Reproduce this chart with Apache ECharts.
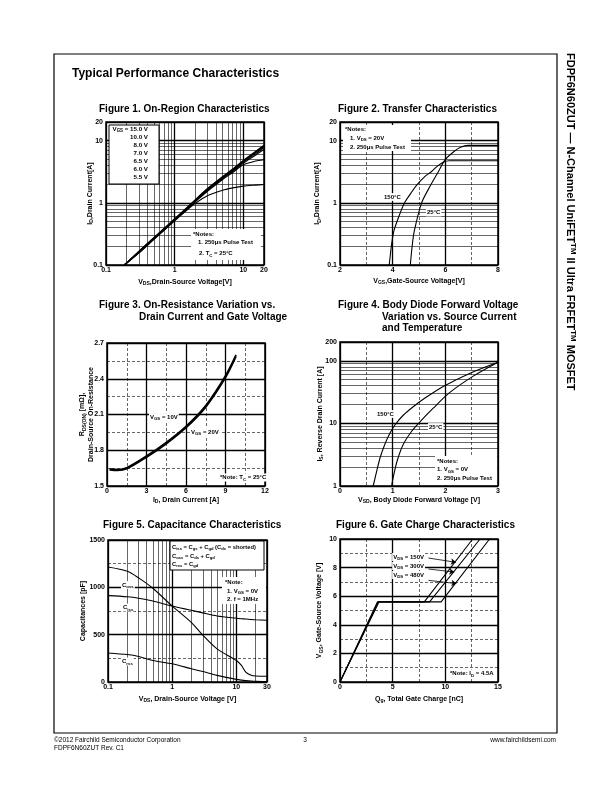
<!DOCTYPE html>
<html><head><meta charset="utf-8">
<script src="https://cdn.jsdelivr.net/npm/echarts@6/dist/echarts.min.js"></script>
<style>html,body{margin:0;padding:0;background:#fff}#c{width:612px;height:792px}</style>
</head><body><div id="c"></div>
<script>
// ---------------- Figure 1: On-Region Characteristics ----------------
const fig1Vds  = [0.185, 0.3, 0.5, 0.7, 1, 1.5, 2, 3, 5, 7, 10, 15, 20];
const fig1Id150 = [0.1, 0.166, 0.277, 0.388, 0.555, 0.84, 1.13, 1.7, 2.65, 3.5, 4.8, 6.7, 8.5];
const fig1Id100 = [0.1, 0.164, 0.273, 0.382, 0.548, 0.825, 1.11, 1.67, 2.61, 3.43, 4.72, 6.5, 8.3];
const fig1Id80  = [0.1, 0.162, 0.27, 0.378, 0.54, 0.81, 1.09, 1.64, 2.57, 3.38, 4.65, 6.4, 8.1];
const fig1Id70  = [0.1, 0.16, 0.267, 0.373, 0.533, 0.8, 1.075, 1.61, 2.52, 3.3, 4.52, 6.15, 7.85];
const fig1Id65  = [0.1, 0.158, 0.264, 0.368, 0.527, 0.79, 1.06, 1.58, 2.46, 3.2, 4.35, 5.85, 7.3];
const fig1Id60  = [0.1, 0.157, 0.262, 0.365, 0.523, 0.78, 1.04, 1.54, 2.38, 3.08, 4.1, 4.7, 4.95];
const fig1Id55  = [0.1, 0.155, 0.258, 0.36, 0.515, 0.76, 0.98, 1.3, 1.6, 1.74, 1.86, 1.93, 1.97];
const fig1Legend = ['V{s|GS} = 15.0 V', '10.0 V', '8.0 V', '7.0 V', '6.5 V', '6.0 V', '5.5 V'];
const logMinor01to20 = [0.2,0.3,0.4,0.5,0.6,0.7,0.8,0.9,2,3,4,5,6,7,8,9];

// ---------------- Figure 2: Transfer Characteristics ----------------
const fig2Vgs150 = [3.87, 3.95, 4.04, 4.2, 4.45, 4.7, 4.92, 5.2, 5.48, 5.7, 5.92, 6.15, 8];
const fig2Id150  = [0.1, 0.2, 0.345, 0.55, 1.0, 1.45, 1.95, 2.6, 3.2, 3.9, 4.5, 4.75, 4.75];
const fig2Vgs25  = [4.67, 4.74, 4.82, 5.1, 5.45, 5.74, 5.99, 6.33, 6.6, 6.85, 8];
const fig2Id25   = [0.1, 0.2, 0.35, 1.0, 1.95, 3.2, 4.9, 6.7, 7.9, 8.4, 8.4];

// ---------------- Figure 3: On-Resistance ----------------
const fig3Id    = [0.2, 0.8, 1.5, 3, 4.5, 6, 7.5, 9, 9.8];
const fig3Rds10 = [1.643, 1.638, 1.653, 1.751, 1.866, 2.001, 2.176, 2.426, 2.601];
const fig3Rds20 = [1.635, 1.63, 1.644, 1.741, 1.854, 1.989, 2.162, 2.409, 2.587];

// ---------------- Figure 4: Body Diode ----------------
const fig4Vsd150 = [0.63, 0.68, 0.76, 0.85, 0.95, 1.05, 1.2, 1.39, 1.6, 1.96, 2.46, 3.0];
const fig4Is150  = [1, 1.5, 2.8, 4.6, 7, 9.6, 13.5, 18.5, 25, 39, 63, 95];
const fig4Vsd25  = [0.98, 1.02, 1.09, 1.2, 1.35, 1.5, 1.77, 2.08, 2.53, 3.0];
const fig4Is25   = [1, 1.5, 2.6, 4.6, 7.3, 10.2, 17.5, 31, 57, 95];
const fig4MinorY = [2,3,4,5,6,7,8,9,20,30,40,50,60,70,80,90];

// ---------------- Figure 5: Capacitance ----------------
const fig5Vds  = [0.1, 0.2, 0.3, 0.5, 1, 2, 3, 5, 10, 12, 14, 17, 20, 30];
const fig5Coss = [1215, 1170, 1100, 990, 802, 628, 495, 350, 227, 175, 105, 72, 64, 60];
const fig5Ciss = [912, 900, 885, 855, 802, 757, 730, 698, 673, 668, 665, 660, 657, 652];
const fig5Crss = [307, 290, 270, 227, 192, 140, 110, 70, 28, 20, 15, 10, 7, 5];
const fig5MinorX = [0.2,0.3,0.4,0.5,0.6,0.7,0.8,0.9,2,3,4,5,6,7,8,9,20];

// ---------------- Figure 6: Gate Charge ----------------
const fig6Vgs  = [0, 5.6, 5.6, 10];
const fig6Q150 = [0, 3.55, 8.0, 12.6];
const fig6Q300 = [0, 3.62, 8.5, 13.3];
const fig6Q480 = [0, 3.7, 9.6, 14.2];

// ---------------------------------------------------------------
const FONT = '"Liberation Sans", Arial, Helvetica, sans-serif';
function richFor(size) {
  return {
    s: {fontSize: size * 0.72, fontWeight: 'bold', fontFamily: FONT, color: '#000', lineHeight: size * 0.5, verticalAlign: 'bottom'},
    p: {fontSize: size * 0.72, fontWeight: 'bold', fontFamily: FONT, color: '#000', lineHeight: size * 0.5, verticalAlign: 'top'}
  };
}
const zip = (xs, ys) => xs.map((x, i) => [x, ys[i]]);
const fmtLog = v => String(+(+v).toPrecision(4));
const fmtPlain = v => String(+(+v).toPrecision(6));

const MAJOR = {show: true, lineStyle: {color: '#000', width: 1.3}};
const MINOR_DASH = {show: true, lineStyle: {color: '#000', width: 0.6, type: [3, 2]}};

function axisBase(gi, name, nameGap, isY, extra) {
  return Object.assign({
    gridIndex: gi, name: name, nameLocation: 'middle', nameGap: nameGap,
    nameRotate: isY ? 90 : 0, nameMoveOverlap: false,
    nameTextStyle: {fontFamily: FONT, fontSize: 7, fontWeight: 'bold', color: '#000', lineHeight: 9, rich: richFor(7)},
    axisLine: {show: false}, axisTick: {show: false},
    axisLabel: {fontFamily: FONT, fontSize: 7, fontWeight: 'bold', color: '#000', margin: isY ? 3 : 2},
    splitLine: MAJOR
  }, extra);
}
function logAx(gi, min, max, name, gap, isY) {
  const a = axisBase(gi, name, gap, isY, {type: 'log', logBase: 10, min: min, max: max});
  a.axisLabel.formatter = fmtLog;
  return a;
}
function valAx(gi, min, max, interval, name, gap, isY, fmt) {
  const a = axisBase(gi, name, gap, isY, {
    type: 'value', min: min, max: max, interval: interval,
    minorTick: {show: false, splitNumber: 2},
    minorSplitLine: MINOR_DASH
  });
  a.axisLabel.formatter = fmt || fmtPlain;
  return a;
}
function minorLines(xs, ys) {
  return {
    silent: true, symbol: ['none', 'none'], label: {show: false},
    lineStyle: {color: '#000', width: 0.6, type: 'solid'},
    emphasis: {disabled: true}, animation: false,
    data: xs.map(v => ({xAxis: v})).concat(ys.map(v => ({yAxis: v})))
  };
}
function line(gi, name, data, extra) {
  return Object.assign({
    type: 'line', name: name, xAxisIndex: gi, yAxisIndex: gi, data: data,
    symbol: 'none', showSymbol: false, smooth: 0.3,
    lineStyle: {color: '#000', width: 1.1}, emphasis: {disabled: true}, z: 5
  }, extra || {});
}

// graphic helpers
function T(x, y, text, o) {
  o = o || {};
  const size = o.fontSize || 6;
  return {type: 'text', x: x, y: y, z: 101, rotation: o.rotation || 0, silent: true,
    style: Object.assign({text: text, fill: '#000', fontFamily: FONT, fontSize: size, fontWeight: 'bold',
      align: 'left', verticalAlign: 'middle', lineHeight: size * 1.3, rich: richFor(size)}, o.style || {})};
}
function TB(x, y, text, o) { // white background text
  const e = T(x, y, text, o);
  e.style.backgroundColor = '#fff';
  e.style.padding = [0, 1];
  return e;
}
function R(x, y, w, h, stroke) {
  return {type: 'rect', z: 100, silent: true, shape: {x: x, y: y, width: w, height: h},
    style: {fill: '#fff', stroke: stroke ? '#000' : null, lineWidth: 1}};
}

const grids = [
  {left: 106, top: 122, width: 158, height: 143},
  {left: 340, top: 122, width: 158, height: 143},
  {left: 107, top: 343, width: 158, height: 143},
  {left: 340, top: 342, width: 158, height: 144},
  {left: 108, top: 540, width: 159, height: 142},
  {left: 340, top: 539, width: 158, height: 143}
].map(g => Object.assign({show: true, borderColor: '#000', borderWidth: 1.5, containLabel: false}, g));

const xAxes = [
  logAx(0, 0.1, 20, 'V{s|DS},Drain-Source Voltage[V]', 12.5, false),
  valAx(1, 2, 8, 2, 'V{s|GS},Gate-Source Voltage[V]', 11.5, false),
  valAx(2, 0, 12, 3, 'I{s|D}, Drain Current [A]', 9.5, false),
  valAx(3, 0, 3, 1, 'V{s|SD}, Body Diode Forward Voltage [V]', 9.5, false),
  logAx(4, 0.1, 30, 'V{s|DS}, Drain-Source Voltage [V]', 12.5, false),
  valAx(5, 0, 15, 5, 'Q{s|g}, Total Gate Charge [nC]', 12.5, false)
];
const yAxes = [
  logAx(0, 0.1, 20, 'I{s|D},Drain Current[A]', 11.5, true),
  logAx(1, 0.1, 20, 'I{s|D},Drain Current[A]', 18, true),
  valAx(2, 1.5, 2.7, 0.3, 'R{s|DS(ON)} [mΩ],\nDrain-Source On-Resistance', 11, true, v => (+v).toFixed(1)),
  logAx(3, 1, 200, 'I{s|S}, Reverse Drain Current [A]', 15.5, true),
  valAx(4, 0, 1500, 500, 'Capacitances [pF]', 20.5, true),
  valAx(5, 0, 10, 2, 'V{s|GS}, Gate-Source Voltage [V]', 16, true)
];

const series = [
  line(0, '15.0 V', zip(fig1Vds, fig1Id150), {markLine: minorLines(logMinor01to20, logMinor01to20)}),
  line(0, '10.0 V', zip(fig1Vds, fig1Id100)),
  line(0, '8.0 V', zip(fig1Vds, fig1Id80)),
  line(0, '7.0 V', zip(fig1Vds, fig1Id70)),
  line(0, '6.5 V', zip(fig1Vds, fig1Id65)),
  line(0, '6.0 V', zip(fig1Vds, fig1Id60)),
  line(0, '5.5 V', zip(fig1Vds, fig1Id55)),

  line(1, '150°C', zip(fig2Vgs150, fig2Id150), {markLine: minorLines([], logMinor01to20)}),
  line(1, '25°C', zip(fig2Vgs25, fig2Id25)),

  line(2, 'VGS = 10V', zip(fig3Id, fig3Rds10), {lineStyle: {color: '#000', width: 1.7}}),
  line(2, 'VGS = 20V', zip(fig3Id, fig3Rds20), {lineStyle: {color: '#000', width: 1.7}}),

  line(3, '150°C', zip(fig4Vsd150, fig4Is150), {markLine: minorLines([], fig4MinorY)}),
  line(3, '25°C', zip(fig4Vsd25, fig4Is25)),

  line(4, 'Coss', zip(fig5Vds, fig5Coss), {markLine: minorLines(fig5MinorX, [])}),
  line(4, 'Ciss', zip(fig5Vds, fig5Ciss)),
  line(4, 'Crss', zip(fig5Vds, fig5Crss)),

  line(5, 'VDS = 150V', zip(fig6Q150, fig6Vgs), {smooth: false}),
  line(5, 'VDS = 300V', zip(fig6Q300, fig6Vgs), {smooth: false, markLine: {
    silent: true, symbol: ['none', 'arrow'], symbolSize: 5, label: {show: false},
    lineStyle: {color: '#000', width: 0.8, type: 'solid'}, emphasis: {disabled: true}, animation: false,
    data: [
      [{coord: [8.4, 8.67]}, {coord: [11.0, 8.37]}],
      [{coord: [8.4, 7.9]}, {coord: [10.85, 7.69]}],
      [{coord: [8.4, 7.11]}, {coord: [11.05, 6.88]}]
    ]}}),
  line(5, 'VDS = 480V', zip(fig6Q480, fig6Vgs), {smooth: false})
];

const G = [];
// page frame
G.push({type: 'rect', z: 1, silent: true, shape: {x: 54, y: 54, width: 503, height: 679}, style: {fill: null, stroke: '#000', lineWidth: 1.2}});
G.push(T(72, 74, 'Typical Performance Characteristics', {fontSize: 12}));
G.push(T(570, 53, 'FDPF6N60ZUT — N-Channel UniFET{p|TM} II Ultra FRFET{p|TM} MOSFET', {fontSize: 11, rotation: -Math.PI / 2}));
// figure titles
G.push(T(99, 109, 'Figure 1. On-Region Characteristics', {fontSize: 10}));
G.push(T(338, 109, 'Figure 2. Transfer Characteristics', {fontSize: 10}));
G.push(T(99, 305, 'Figure 3. On-Resistance Variation vs.', {fontSize: 10}));
G.push(T(139, 317, 'Drain Current and Gate Voltage', {fontSize: 10}));
G.push(T(338, 305, 'Figure 4. Body Diode Forward Voltage', {fontSize: 10}));
G.push(T(382, 317, 'Variation vs. Source Current', {fontSize: 10}));
G.push(T(382, 328, 'and Temperature', {fontSize: 10}));
G.push(T(103, 525, 'Figure 5. Capacitance Characteristics', {fontSize: 10}));
G.push(T(336, 525, 'Figure 6. Gate Charge Characteristics', {fontSize: 10}));

// Fig 1 legend + notes
G.push(R(109, 125, 50, 59, true));
const legY = [129, 137.5, 145.5, 153.5, 161.5, 169.5, 177.5];
fig1Legend.forEach((t, i) => G.push(T(148, legY[i], t, {fontSize: 6.2, style: {align: 'right'}})));
G.push(R(191, 229, 70, 31, false));
G.push(T(193, 234, '*Notes:'));
G.push(T(198, 242.5, '1. 250μs Pulse Test'));
G.push(T(199, 253.5, '2. T{s|C} = 25°C'));

// Fig 2 notes + labels
G.push(R(343, 125, 68, 26, false));
G.push(T(345, 129.5, '*Notes:'));
G.push(T(350, 138, '1. V{s|DS} = 20V'));
G.push(T(350, 147, '2. 250μs Pulse Test'));
G.push(TB(383, 197, '150°C'));
G.push(TB(426, 212.5, '25°C'));

// Fig 3 labels
G.push(TB(149, 417, 'V{s|GS} = 10V'));
G.push(TB(190, 432, 'V{s|GS} = 20V'));
G.push(TB(219, 477.5, '*Note: T{s|C} = 25°C'));

// Fig 4 labels
G.push(TB(376, 414, '150°C'));
G.push(TB(428, 427, '25°C'));
G.push(R(435, 456, 62, 29, false));
G.push(T(437, 461, '*Notes:'));
G.push(T(437, 469.5, '1. V{s|GS} = 0V'));
G.push(T(437, 478, '2. 250μs Pulse Test'));

// Fig 5 labels
G.push(R(170, 541, 94, 29, true));
G.push(T(172, 547.5, 'C{s|iss} = C{s|gs} + C{s|gd} (C{s|ds} = shorted)', {fontSize: 5.8}));
G.push(T(172, 556, 'C{s|oss} = C{s|ds} + C{s|gd}', {fontSize: 5.8}));
G.push(T(172, 564.5, 'C{s|rss} = C{s|gd}', {fontSize: 5.8}));
G.push(R(222, 577, 44, 27, false));
G.push(T(225, 582, '*Note:'));
G.push(T(227, 591, '1. V{s|GS} = 0V'));
G.push(T(227, 599.5, '2. f = 1MHz'));
G.push(TB(121, 585, 'C{s|oss}'));
G.push(TB(122, 607.5, 'C{s|iss}'));
G.push(TB(121, 661.5, 'C{s|rss}'));

// Fig 6 labels
G.push(TB(425, 557, 'V{s|DS} = 150V', {style: {align: 'right'}}));
G.push(TB(425, 566, 'V{s|DS} = 300V', {style: {align: 'right'}}));
G.push(TB(425, 575, 'V{s|DS} = 480V', {style: {align: 'right'}}));
G.push(TB(449, 673.5, '*Note: I{s|D} = 4.5A'));

// footer
G.push(T(54, 740.5, '©2012 Fairchild Semiconductor Corporation', {fontSize: 6.5, style: {fontWeight: 'normal'}}));
G.push(T(54, 748.5, 'FDPF6N60ZUT Rev. C1', {fontSize: 6.5, style: {fontWeight: 'normal'}}));
G.push(T(305, 740.5, '3', {fontSize: 6.5, style: {fontWeight: 'normal', align: 'center'}}));
G.push(T(556, 740.5, 'www.fairchildsemi.com', {fontSize: 6.5, style: {fontWeight: 'normal', align: 'right'}}));

const chart = echarts.init(document.getElementById('c'), null, {renderer: 'canvas'});
chart.setOption({
  animation: false,
  backgroundColor: '#fff',
  grid: grids,
  xAxis: xAxes,
  yAxis: yAxes,
  series: series,
  graphic: {elements: G}
});
</script>
</body></html>
